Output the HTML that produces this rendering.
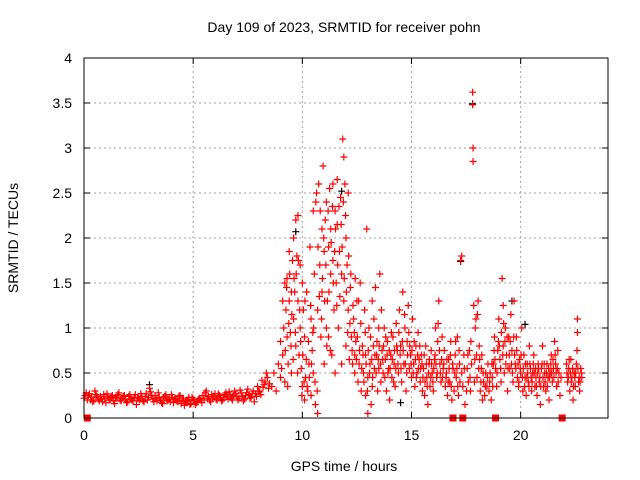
<!DOCTYPE html>
<html><head><meta charset="utf-8"><style>
body{margin:0;background:#fff}
svg{display:block;font-family:"Liberation Sans",sans-serif}
</style></head><body>
<svg id="chart" width="640" height="480" viewBox="0 0 640 480">
<rect x="0" y="0" width="640" height="480" fill="#fff"/>
<text x="344" y="32" font-size="14" text-anchor="middle">Day 109 of 2023, SRMTID for receiver pohn</text>
<text x="344" y="471" font-size="14" text-anchor="middle">GPS time / hours</text>
<text transform="translate(18,238) rotate(-90)" font-size="14" text-anchor="middle">SRMTID / TECUs</text>
<g id="grid"></g><g id="axes"></g><g id="marks"></g>
<rect x="84" y="58" width="524" height="360" fill="none" stroke="#000" stroke-width="1"/>
</svg>
<script>
const xTicks=[0,5,10,15,20];
const yTicks=[0,0.5,1,1.5,2,2.5,3,3.5,4];
const yTickLabels=["0","0.5","1","1.5","2","2.5","3","3.5","4"];
const quietTimes=[0,0.1,0.2,0.3,0.4,0.5,0.6,0.7,0.8,0.9,1,1.1,1.2,1.3,1.4,1.5,1.6,1.7,1.8,1.9,2,2.1,2.2,2.3,2.4,2.5,2.6,2.7,2.8,2.9,3,3.1,3.2,3.3,3.4,3.5,3.6,3.7,3.8,3.9,4,4.1,4.2,4.3,4.4,4.5,4.6,4.7,4.8,4.9,5,5.1,5.2,5.3,5.4,5.5,5.6,5.7,5.8,5.9,6,6.1,6.2,6.3,6.4,6.5,6.6,6.7,6.8,6.9,7,7.1,7.2,7.3,7.4,7.5,7.6,7.7,7.8,7.9,8,8.1,8.2,8.3,8.4,8.5];
const quietValues=[0.22,0.28,0.25,0.2,0.18,0.3,0.24,0.19,0.21,0.26,0.17,0.23,0.2,0.25,0.16,0.22,0.28,0.19,0.24,0.21,0.18,0.26,0.2,0.23,0.15,0.22,0.27,0.19,0.24,0.2,0.33,0.25,0.18,0.22,0.28,0.2,0.16,0.24,0.19,0.21,0.26,0.17,0.22,0.18,0.25,0.2,0.14,0.19,0.23,0.16,0.21,0.15,0.18,0.22,0.17,0.2,0.3,0.24,0.18,0.22,0.27,0.2,0.25,0.19,0.23,0.28,0.21,0.26,0.2,0.3,0.24,0.22,0.28,0.19,0.25,0.32,0.22,0.27,0.18,0.24,0.3,0.26,0.34,0.4,0.45,0.38];
const quietTimes2=[0.05,0.15,0.25,0.35,0.45,0.55,0.65,0.75,0.85,0.95,1.05,1.15,1.25,1.35,1.45,1.55,1.65,1.75,1.85,1.95,2.05,2.15,2.25,2.35,2.45,2.55,2.65,2.75,2.85,2.95,3.05,3.15,3.25,3.35,3.45,3.55,3.65,3.75,3.85,3.95,4.05,4.15,4.25,4.35,4.45,4.55,4.65,4.75,4.85,4.95,5.05,5.15,5.25,5.35,5.45,5.55,5.65,5.75,5.85,5.95,6.05,6.15,6.25,6.35,6.45,6.55,6.65,6.75,6.85,6.95,7.05,7.15,7.25,7.35,7.45,7.55,7.65,7.75,7.85,7.95,8.05,8.15,8.25,8.35,8.45];
const quietValues2=[0.25,0.2,0.27,0.23,0.19,0.26,0.21,0.24,0.18,0.22,0.27,0.2,0.24,0.19,0.23,0.26,0.2,0.22,0.25,0.17,0.24,0.21,0.19,0.26,0.22,0.2,0.24,0.18,0.27,0.23,0.29,0.21,0.25,0.19,0.23,0.17,0.22,0.26,0.2,0.18,0.23,0.21,0.19,0.24,0.16,0.22,0.18,0.2,0.15,0.23,0.19,0.17,0.21,0.2,0.25,0.28,0.22,0.2,0.26,0.24,0.21,0.27,0.23,0.2,0.26,0.24,0.29,0.22,0.25,0.27,0.2,0.31,0.24,0.21,0.28,0.26,0.23,0.3,0.27,0.35,0.29,0.42,0.37,0.5,0.33];
const activePoints=[[8.6,0.35],[8.7,0.5],[8.8,0.3],[8.9,0.6],[9.0,0.45],[9.0,0.85],[9.1,0.7],[9.15,1.0],[9.2,0.4],[9.2,1.5],[9.25,1.2],[9.3,0.9],[9.3,1.55],[9.35,0.6],[9.4,1.3],[9.4,1.85],[9.45,0.95],[9.5,1.4],[9.5,0.5],[9.55,1.75],
[9.6,2.0],[9.6,1.1],[9.65,1.4],[9.7,2.2],[9.7,0.8],[9.75,1.8],[9.8,2.25],[9.8,1.3],[9.85,0.7],[9.9,1.7],[9.9,1.0],[9.95,0.55],[10.0,1.5],[10.0,0.35],[10.05,1.2],[10.1,0.2],[10.1,0.9],[10.15,0.45],[10.2,1.4],[10.25,0.3],[10.3,0.6],[10.35,1.9],[10.4,1.1],[10.4,0.25],[10.45,0.75],[10.5,2.3],[10.5,0.5],
[10.55,1.6],[10.6,0.15],[10.65,2.5],[10.7,1.2],[10.7,0.05],[10.75,2.6],[10.8,1.7],[10.85,0.9],[10.9,2.1],[10.9,1.4],[10.95,2.8],[11.0,0.6],[11.0,1.85],[11.05,2.2],[11.1,1.0],[11.1,2.4],[11.15,1.3],[11.2,0.9],[11.2,1.9],[11.25,2.55],[11.3,1.6],[11.3,2.1],[11.35,0.7],[11.4,2.6],[11.4,1.75],[11.45,1.2],[11.5,2.3],[11.5,0.5],
[11.55,1.5],[11.6,2.15],[11.6,2.65],[11.65,1.0],[11.7,1.85],[11.75,2.45],[11.8,1.6],[11.8,0.6],[11.85,3.1],[11.9,2.9],[11.9,1.3],[11.95,2.6],[12.0,2.0],[12.0,0.8],[12.05,1.7],[12.1,2.5],[12.1,1.2],[12.15,0.65],[12.2,1.45],[12.25,0.9],[12.3,0.6],[12.35,1.1],[12.4,0.5],[12.4,0.7],[12.45,0.85],[12.5,1.3],
[12.55,0.4],[12.6,0.6],[12.65,1.5],[12.7,0.3],[12.75,0.8],[12.8,0.5],[12.85,1.2],[12.9,0.25],[12.9,0.7],[12.95,2.1],[13.0,0.05],[13.0,0.45],[13.05,1.0],[13.1,0.6],[13.15,0.15],[13.2,0.35],[13.2,1.3],[13.25,0.8],[13.3,0.55],[13.35,1.45],[13.4,0.7],[13.45,0.3],[13.5,1.0],[13.5,0.55],
[13.55,1.6],[13.6,0.4],[13.65,0.75],[13.7,0.5],[13.75,1.0],[13.8,0.65],[13.85,0.3],[13.9,0.85],[13.95,0.55],[14.0,0.2],[14.05,0.7],[14.1,0.45],[14.15,0.9],[14.2,0.6],[14.25,0.35],[14.3,1.05],[14.35,0.75],[14.4,0.5],[14.45,1.2],[14.5,0.8],
[14.55,0.4],[14.6,1.4],[14.65,0.6],[14.7,1.0],[14.75,0.3],[14.8,0.85],[14.85,1.25],[14.9,0.55],[14.95,0.7],[15.0,0.45],[15.05,1.1],[15.1,0.6],[15.15,0.35],[15.2,0.8],[15.25,0.5],[15.3,0.95],[15.35,0.65],[15.4,0.4],[15.45,0.7],[15.5,0.3],
[15.55,0.55],[15.6,0.25],[15.65,0.8],[15.7,0.45],[15.75,0.15],[15.8,0.6],[15.85,0.35],[15.9,0.75],[15.95,0.5],[16.0,0.3],[16.05,0.65],[16.1,1.0],[16.15,0.45],[16.2,0.85],[16.25,1.3],[16.3,0.6],[16.35,0.4],[16.4,0.9],[16.45,0.55],[16.5,0.75],
[16.55,0.35],[16.6,0.5],[16.65,0.25],[16.7,0.65],[16.75,0.4],[16.8,0.85],[16.85,0.2],[16.9,0.55],[16.95,0.3],[17.0,0.7],[17.05,0.45],[17.1,0.9],[17.15,0.25],[17.2,0.6],[17.25,1.75],[17.3,1.8],[17.3,0.5],[17.35,0.35],[17.4,0.7],[17.45,0.15],
[17.55,0.55],[17.6,0.4],[17.65,0.75],[17.7,0.3],[17.75,0.6],[17.8,3.62],[17.8,3.48],[17.82,3.0],[17.82,2.85],[17.85,1.25],[17.9,0.65],[17.95,1.1],[18.0,0.45],[18.05,1.3],[18.1,0.8],[18.15,0.3],[18.2,0.55],[18.25,0.2],[18.3,0.4],[18.35,0.25],[18.4,0.5],[18.45,0.35],
[18.5,0.6],[18.55,0.3],[18.6,0.5],[18.65,0.2],[18.7,0.45],[18.75,0.6],[18.8,0.9],[18.85,0.55],[18.9,0.35],[18.95,0.75],[19.0,1.1],[19.05,0.65],[19.1,0.4],[19.15,1.55],[19.2,1.25],[19.2,0.8],[19.25,0.5],[19.3,1.0],[19.35,0.7],[19.4,0.3],[19.45,0.9],
[19.5,0.55],[19.55,1.15],[19.6,0.75],[19.65,0.4],[19.7,1.3],[19.75,0.6],[19.8,0.9],[19.85,0.45],[19.9,0.35],[19.95,0.65],[20.0,0.5],[20.05,1.0],[20.1,0.3],[20.15,0.7],[20.2,0.45],[20.25,0.25],[20.3,0.6],[20.35,0.4],[20.4,0.8],[20.45,0.55],
[20.5,0.3],[20.55,0.5],[20.6,0.7],[20.65,0.35],[20.7,0.45],[20.75,0.25],[20.8,0.6],[20.85,0.4],[20.9,0.15],[20.95,0.55],[21.0,0.8],[21.05,0.35],[21.1,0.5],[21.15,0.3],[21.2,0.6],[21.25,0.45],[21.3,0.2],[21.35,0.5],[21.4,0.7],[21.45,0.4],
[21.5,0.55],[21.55,0.85],[21.6,0.6],[21.65,0.35],[21.7,0.75],[21.75,0.5],[21.8,0.25],[21.85,0.45],
[22.1,0.6],[22.15,0.4],[22.2,0.55],[22.25,0.3],[22.3,0.65],[22.35,0.45],[22.4,0.2],[22.45,0.5],[22.5,0.35],[22.55,0.6],[22.6,1.1],[22.6,0.95],[22.65,0.4],[22.7,0.3],[22.75,0.55],[22.8,0.45]];
const activePoints2=[[9.05,0.55],[9.1,1.3],[9.22,0.75],[9.28,1.45],[9.33,0.35],[9.38,1.05],[9.42,1.6],[9.48,0.8],[9.52,1.15],[9.58,0.65],[9.62,1.55],[9.68,0.95],[9.72,1.6],[9.78,0.5],[9.82,1.75],[9.88,1.2],[9.92,0.85],[9.98,0.25],[10.02,0.7],[10.08,0.4],[10.12,1.3],[10.18,0.65],[10.22,0.35],[10.28,0.85],[10.32,0.45],[10.38,1.25],[10.42,0.6],[10.48,0.95],[10.52,1.0],[10.58,0.4],[10.62,2.4],[10.68,0.3],[10.72,1.9],[10.78,1.35],[10.82,2.3],[10.88,1.1],[10.92,1.55],[10.98,2.0],[11.02,1.3],[11.08,1.7],[11.12,0.8],[11.18,2.3],[11.22,1.4],[11.28,0.75],[11.32,1.95],[11.38,2.35],[11.42,1.5],[11.48,1.85],[11.52,2.1],[11.58,1.25],[11.62,1.7],[11.68,2.35],[11.72,1.35],[11.78,2.15],[11.82,1.9],[11.88,2.4],[11.92,1.55],[11.98,2.25],[12.02,1.4],[12.08,0.95],[12.12,1.8],[12.18,1.05],[12.22,1.6],[12.28,0.75],[12.32,1.25],[12.38,0.95],[12.42,1.55],[12.48,0.65],[12.52,0.9],[12.58,1.3],[12.62,0.75],[12.68,1.05],[12.72,0.55],[12.78,0.7],[12.82,0.4],[12.88,0.95],[12.92,0.6],[12.98,0.3],[13.02,0.75],[13.08,0.5],[13.12,0.9],[13.18,0.65],[13.22,0.45],[13.28,1.1],[13.32,0.7],[13.38,0.5],[13.42,0.85],[13.48,0.65],[13.52,0.8],[13.58,0.6],[13.62,1.2],[13.68,0.65],[13.72,0.8],[13.78,0.45],[13.82,0.9],[13.88,0.7],[13.92,0.5],[13.98,0.75],[14.02,0.55],[14.08,0.95],[14.12,0.65],[14.18,0.4],[14.22,0.75],[14.28,0.55],[14.32,0.8],[14.38,0.6],[14.42,0.95],[14.48,0.7],[14.52,0.55],[14.58,0.85],[14.62,0.75],[14.68,1.15],[14.72,0.6],[14.78,0.5],[14.82,0.7],[14.88,0.95],[14.92,0.8],[14.98,0.6],[15.02,0.75],[15.08,0.5],[15.12,0.85],[15.18,0.65],[15.22,0.45],[15.28,0.7],[15.32,0.55],[15.38,0.8],[15.42,0.55],[15.48,0.6],[15.52,0.45],[15.58,0.7],[15.62,0.4],[15.68,0.6],[15.72,0.35],[15.78,0.5],[15.82,0.65],[15.88,0.45],[15.92,0.6],[15.98,0.4],[16.02,0.55],[16.08,0.7],[16.12,0.6],[16.18,0.5],[16.22,1.05],[16.28,0.75],[16.32,0.5],[16.38,0.65],[16.42,0.45],[16.48,0.6],[16.58,0.45],[16.62,0.65],[16.68,0.4],[16.72,0.55],[16.78,0.7],[16.82,0.35],[16.88,0.6],[16.98,0.5],[17.02,0.85],[17.08,0.55],[17.12,0.35],[17.18,0.75],[17.22,0.4],[17.42,0.55],[17.52,0.3],[17.58,0.7],[17.68,0.45],[17.72,0.85],[17.88,0.4],[17.92,1.0],[17.98,0.7],[18.02,1.15],[18.08,0.55],[18.12,0.65],[18.18,0.4],[18.22,0.7],[18.28,0.5],[18.38,0.35],[18.48,0.45],[18.58,0.4],[18.68,0.6],[18.72,0.35],[18.78,0.75],[18.82,0.65],[18.92,0.5],[18.98,0.85],[19.02,0.8],[19.08,0.55],[19.12,0.95],[19.18,0.7],[19.22,1.05],[19.28,0.85],[19.32,0.6],[19.38,0.9],[19.42,0.55],[19.48,0.7],[19.52,0.85],[19.58,0.6],[19.62,0.5],[19.68,0.9],[19.72,0.7],[19.78,0.55],[19.82,0.75],[19.88,0.6],[19.92,0.4],[19.98,0.55],[20.02,0.7],[20.08,0.45],[20.12,0.55],[20.18,0.35],[20.22,0.6],[20.28,0.45],[20.32,0.5],[20.38,0.35],[20.42,0.6],[20.48,0.45],[20.52,0.4],[20.58,0.6],[20.62,0.5],[20.68,0.55],[20.72,0.35],[20.78,0.5],[20.82,0.55],[20.88,0.45],[20.92,0.35],[20.98,0.6],[21.02,0.45],[21.08,0.6],[21.12,0.4],[21.18,0.5],[21.22,0.35],[21.28,0.55],[21.32,0.45],[21.38,0.6],[21.42,0.5],[21.48,0.65],[21.52,0.45],[21.58,0.7],[21.62,0.5],[21.68,0.55],[21.72,0.4],[22.12,0.5],[22.18,0.45],[22.22,0.65],[22.28,0.5],[22.32,0.4],[22.38,0.55],[22.42,0.35],[22.48,0.45],[22.52,0.5],[22.58,0.75],[22.62,0.55],[22.68,0.45],[22.72,0.4],[22.78,0.5]];
const blackPoints=[[3.0,0.35],[9.7,2.05],[11.8,2.5],[14.5,0.15],[17.25,1.72],[17.8,3.47],[19.6,1.28],[20.2,1.02]];
const zeroTimes=[0.15,16.9,17.35,18.85,21.9];

const X0=84,X1=608,Y0=418,Y1=58,XMAX=24,YMAX=4;
const sx=t=>X0+(X1-X0)*t/XMAX;
const sy=v=>Y0-(Y0-Y1)*v/YMAX;
const NS="http://www.w3.org/2000/svg";
function mk(tag,attrs,parent){const e=document.createElementNS(NS,tag);for(const k in attrs)e.setAttribute(k,attrs[k]);parent.appendChild(e);return e;}
const grid=document.getElementById('grid'),axes=document.getElementById('axes'),marks=document.getElementById('marks');
xTicks.forEach(t=>{const x=sx(t);
 if(t>0){const g=mk('line',{x1:x,x2:x,y1:Y0,y2:Y1,stroke:'#a0a0a0','stroke-dasharray':'2,3'},grid);
 
 }
 mk('line',{x1:x,x2:x,y1:Y0,y2:Y0-6,stroke:'#000'},axes);
 mk('line',{x1:x,x2:x,y1:Y1,y2:Y1+6,stroke:'#000'},axes);
 const l=mk('text',{x:x,y:Y0+22,'font-size':14,'text-anchor':'middle'},axes);l.textContent=t;
 
 });
yTicks.forEach((v,i)=>{const y=sy(v);
 if(v>0&&v<YMAX){const g=mk('line',{x1:X0,x2:X1,y1:y,y2:y,stroke:'#a0a0a0','stroke-dasharray':'2,3'},grid);
 
 }
 mk('line',{x1:X0,x2:X0+6,y1:y,y2:y,stroke:'#000'},axes);
 mk('line',{x1:X1,x2:X1-6,y1:y,y2:y,stroke:'#000'},axes);
 const l=mk('text',{x:X0-12,y:y+5,'font-size':14,'text-anchor':'end'},axes);l.textContent=yTickLabels[i];
 
 });
function plus(t,v,col,name){const x=sx(t),y=sy(v);
 const p=mk('path',{d:`M${x-3.5},${y}H${x+3.5}M${x},${y-3.5}V${y+3.5}`,stroke:col,'stroke-width':1.2,fill:'none'},marks);
 
 }
blackPoints.forEach(p=>plus(p[0],p[1]+0.02,'#000','black-point'));
quietTimes.forEach((t,i)=>plus(t,quietValues[i],'#f00','srmtid-point'));
quietTimes2.forEach((t,i)=>plus(t,quietValues2[i],'#f00','srmtid-point'));
activePoints.forEach(p=>plus(p[0],p[1],'#f00','srmtid-point'));
activePoints2.forEach(p=>plus(p[0],p[1],'#f00','srmtid-point'));
zeroTimes.forEach(t=>{const r=mk('rect',{x:sx(t)-3.5,y:sy(0)-3.5,width:7,height:7,fill:'#f00'},marks);
 
 });
</script>
</body></html>
